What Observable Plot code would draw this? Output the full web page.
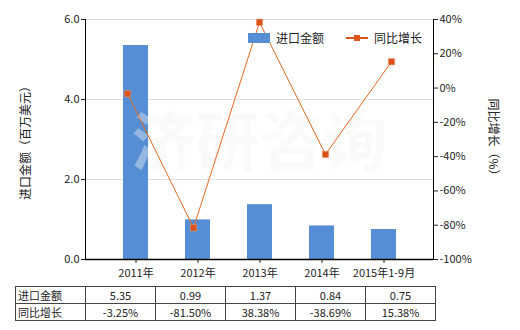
<!DOCTYPE html>
<html><head><meta charset="utf-8">
<script src="https://cdn.jsdelivr.net/npm/d3@7"></script>
<script src="https://cdn.jsdelivr.net/npm/@observablehq/plot@0.6"></script>
<style>
body{margin:0;background:#fff;font-family:"Noto Sans CJK SC","Microsoft YaHei",sans-serif;}
#wrap{position:relative;width:520px;height:330px;}
#wrap svg{position:absolute;left:0;top:0;}
#legend{position:absolute;left:248px;top:29px;font-size:12px;color:#222;display:flex;align-items:center;}
#tbl{position:absolute;left:15px;top:286px;border-collapse:collapse;font-size:11px;color:#222;}
#tbl td{border:1px solid #444;height:16px;padding:0;text-align:center;width:69px;line-height:16px;}
#tbl td.h{text-align:left;padding-left:2px;width:67px;}
.ttl{position:absolute;font-size:12px;color:#222;white-space:nowrap;width:200px;text-align:center;line-height:14px;}
</style></head>
<body><div id="wrap"></div>
<script>
const categories = ["2011年","2012年","2013年","2014年","2015年1-9月"];
const importValues = [5.35, 0.99, 1.37, 0.84, 0.75];
const growthValues = [-3.25, -81.50, 38.38, -38.69, 15.38];
const importLabels = ["5.35","0.99","1.37","0.84","0.75"];
const growthLabels = ["-3.25%","-81.50%","38.38%","-38.69%","15.38%"];
const leftTicks = [0, 2, 4, 6];
const rightTicks = [-100, -80, -60, -40, -20, 0, 20, 40];
const seriesNames = ["进口金额", "同比增长"];
const axisTitles = ["进口金额（百万美元）", "同比增长（%）"];

const data = categories.map((c,i)=>({cat:c, v:importValues[i], g:growthValues[i]}));
const W=520, H=280, mt=19, mb=21, ml=85, mr=87;
const font = '"Noto Sans CJK SC","Microsoft YaHei",sans-serif';
const barColor = "#558ed5", lineColor = "#e8671f", dotColor = "#d9531a";

const p1 = Plot.plot({
  width: W, height: H, marginTop: mt, marginBottom: mb, marginLeft: ml, marginRight: mr,
  style: {fontFamily: font, fontSize: "11px", color: "#222", background: "transparent"},
  x: {domain: categories, padding: 0.6, label: null},
  y: {domain: [0, 6], label: null},
  marks: [
    Plot.gridY(leftTicks.filter(d=>d>0), {stroke: "#e2e2e2", strokeOpacity: 1}),
    Plot.barY(data, {x: "cat", y: "v", fill: barColor}),
    Plot.text(["济研咨询"], {frameAnchor: "middle", dy: 5, text: d=>d, fontSize: 64, fontWeight: "bold", fill: "#f0f4f0", fillOpacity: 0.4}),
    Plot.axisY({ticks: leftTicks, tickFormat: d=>d.toFixed(1), tickSize: 4, tickPadding: 2, label: null, fontSize: 11}),
    Plot.axisX({tickSize: 4, tickPadding: 6, fontSize: 11, label: null}),
    Plot.ruleY([0], {stroke: "#000", strokeWidth: 1.5})
  ]
});
const p2 = Plot.plot({
  width: W, height: H, marginTop: mt, marginBottom: mb, marginLeft: ml, marginRight: mr,
  style: {fontFamily: font, fontSize: "11px", color: "#222", background: "transparent"},
  x: {domain: categories, padding: 0.6, label: null, axis: null},
  y: {domain: [-100, 40], label: null},
  marks: [
    Plot.axisY({anchor: "right", ticks: rightTicks, tickFormat: d=>d+"%", tickSize: 4, tickPadding: 2, label: null, fontSize: 11}),
    Plot.frame({anchor: "left", stroke: "#000"}),
    Plot.frame({anchor: "right", stroke: "#000"}),
    Plot.line(data, {x: "cat", y: "g", stroke: lineColor, strokeWidth: 1}),
    Plot.dot(data, {x: "cat", y: "g", symbol: "square", r: 3.6, fill: dotColor, stroke: "#f0a070", strokeWidth: 0.5})
  ]
});
const wrap = document.getElementById("wrap");
wrap.appendChild(p1); wrap.appendChild(p2);

const t1 = document.createElement("div"); t1.className = "ttl"; t1.textContent = axisTitles[0];
t1.style.left = (25-100)+"px"; t1.style.top = (140-7)+"px"; t1.style.transform = "rotate(-90deg)";
const t2 = document.createElement("div"); t2.className = "ttl"; t2.textContent = axisTitles[1];
t2.style.left = (494-100)+"px"; t2.style.top = (140-7)+"px"; t2.style.transform = "rotate(90deg)";
wrap.appendChild(t1); wrap.appendChild(t2);

const leg = document.createElement("div"); leg.id = "legend";
leg.innerHTML = `<span style="display:inline-block;width:22px;height:10px;background:${barColor};margin-right:6px"></span><span>${seriesNames[0]}</span>
<span style="display:inline-block;position:relative;width:22px;height:10px;margin-left:22px;margin-right:6px"><span style="position:absolute;left:0;top:4px;width:22px;height:2px;background:${dotColor}"></span><span style="position:absolute;left:8px;top:2px;width:6px;height:6px;background:${dotColor}"></span></span><span>${seriesNames[1]}</span>`;
wrap.appendChild(leg);

const tbl = document.createElement("table"); tbl.id = "tbl";
const rows = [[seriesNames[0], importLabels], [seriesNames[1], growthLabels]];
tbl.innerHTML = rows.map(([h, vals]) => `<tr><td class="h">${h}</td>${vals.map(v=>`<td>${v}</td>`).join("")}</tr>`).join("");
wrap.appendChild(tbl);
</script></body></html>
